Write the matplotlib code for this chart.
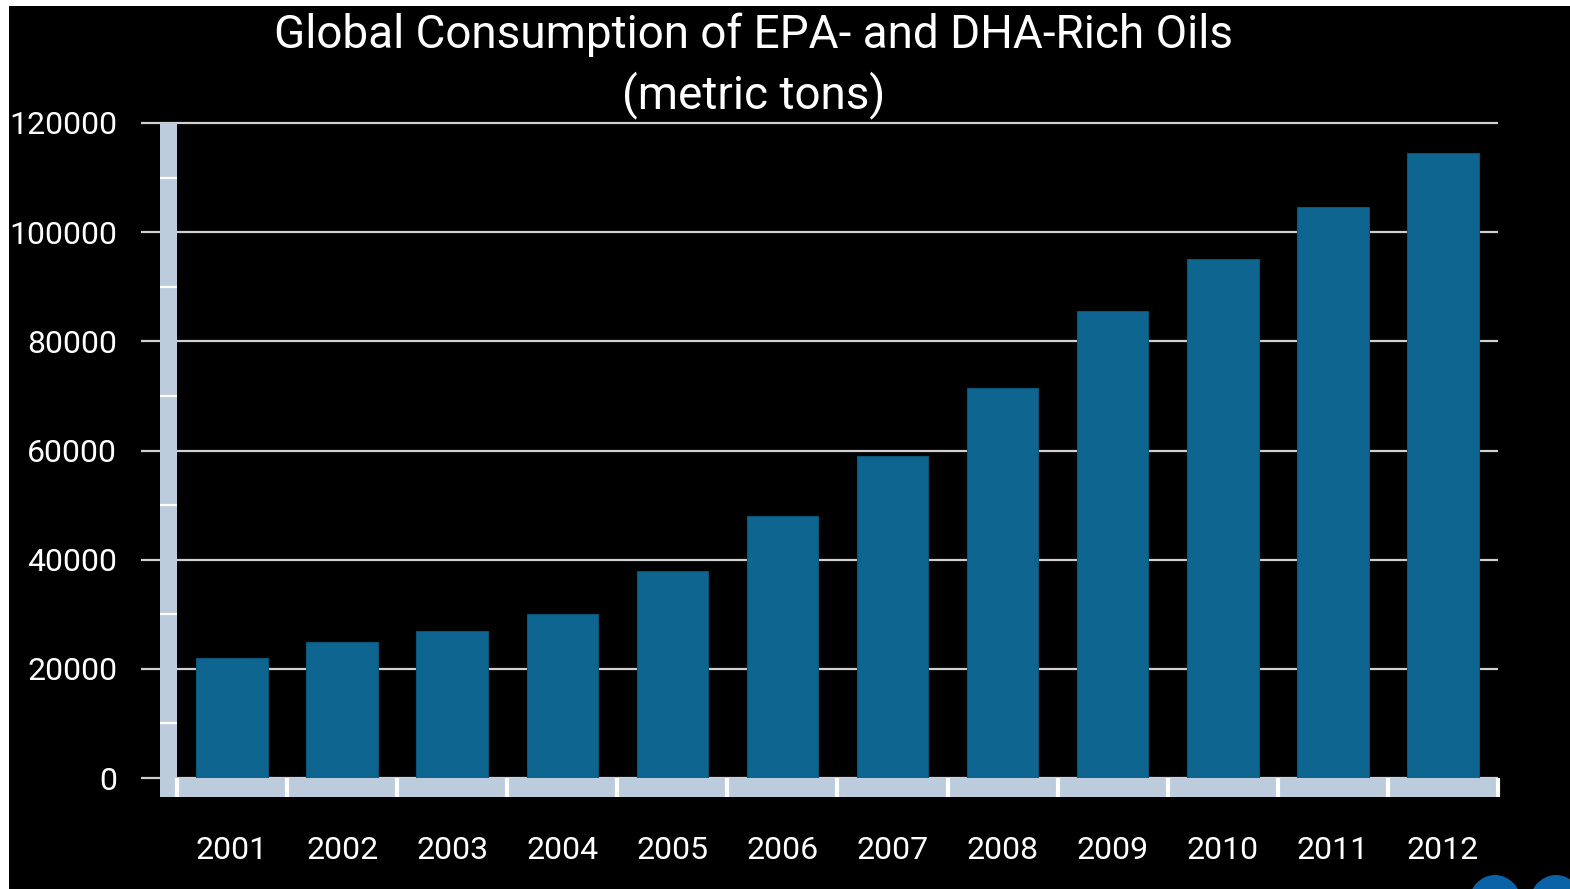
import numpy as np
import matplotlib.pyplot as plt
from matplotlib.patches import Rectangle, Ellipse
import matplotlib.transforms as mtransforms

# Data
years = ['2001', '2002', '2003', '2004', '2005', '2006',
         '2007', '2008', '2009', '2010', '2011', '2012']
tons = [22000, 25000, 27000, 30000, 38000, 48000,
        59000, 71400, 85500, 95000, 104600, 114500]
yticks = [0, 20000, 40000, 60000, 80000, 100000, 120000]

plt.rcParams['font.family'] = ['Liberation Sans Narrow', 'Roboto', 'DejaVu Sans']

W, H = 1570, 889
fig = plt.figure(figsize=(W / 100, H / 100), dpi=100, facecolor='white')

# black slide background, thin white border top/left
fig.add_artist(Rectangle((9 / W, 0), 1, 1 - 6 / H, transform=fig.transFigure,
                         facecolor='black', edgecolor='none', zorder=-10))

x0, x1, yb, yt = 177, 1498, 778, 123
ax = fig.add_axes([x0 / W, 1 - yb / H, (x1 - x0) / W, (yb - yt) / H])
ax.set_facecolor('none')

x = np.arange(len(years))
ax.bar(x, tons, width=0.65, color='#0E6690', edgecolor='#0B5478',
       linewidth=0.8, zorder=3)
ax.set_xlim(-0.5, len(years) - 0.5)
ax.set_ylim(0, 120000)

for s in ax.spines.values():
    s.set_visible(False)

# gridlines extending left past the wall
px = 1.0 / (x1 - x0)
ytr = ax.get_yaxis_transform()
ax.hlines(yticks, -36 * px, 1, transform=ytr, color='#D0D0D0',
          linewidth=1.6, clip_on=False, zorder=1)

# left wall
wall = Rectangle((-17 * px, 0), 17 * px, 1, transform=ax.transAxes,
                 facecolor='#BCCCDC', edgecolor='none', clip_on=False, zorder=2)
ax.add_patch(wall)
minor = np.arange(10000, 120000, 20000)
ax.hlines(minor, -17 * px, 0, transform=ytr, color='white',
          linewidth=1.6, clip_on=False, zorder=2.5)

# floor
fh = 19.0 / (yb - yt)
floor = Rectangle((-17 * px, -fh), 1 + 17 * px, fh, transform=ax.transAxes,
                  facecolor='#BCCCDC', edgecolor='none', clip_on=False, zorder=2)
ax.add_patch(floor)
xtr = ax.get_xaxis_transform()
ax.vlines(np.arange(len(years) + 1) - 0.5, -fh, 0, transform=xtr,
          color='white', linewidth=3, clip_on=False, zorder=2.5)

ax.set_xticks(x)
ax.set_xticklabels(years)
ax.set_yticks(yticks)
ax.set_yticklabels([str(v) for v in yticks])
ax.tick_params(axis='x', length=0, pad=42, labelsize=23, colors='white')
ax.tick_params(axis='y', length=0, pad=43, labelsize=23, colors='white')

fig.text(754 / W, 1 - 35 / H, 'Global Consumption of EPA- and DHA-Rich Oils',
         ha='center', va='center', color='white', fontsize=33)
fig.text(754 / W, 1 - 95 / H, '(metric tons)',
         ha='center', va='center', color='white', fontsize=33)

# logo fragment at bottom right
for cx in (1495, 1556):
    fig.add_artist(Ellipse((cx / W, 1 - 905 / H), 54 / W, 60 / H,
                           transform=fig.transFigure, facecolor='#0A63A6',
                           edgecolor='none'))

fig.savefig('out.png', dpi=100, facecolor=fig.get_facecolor())
